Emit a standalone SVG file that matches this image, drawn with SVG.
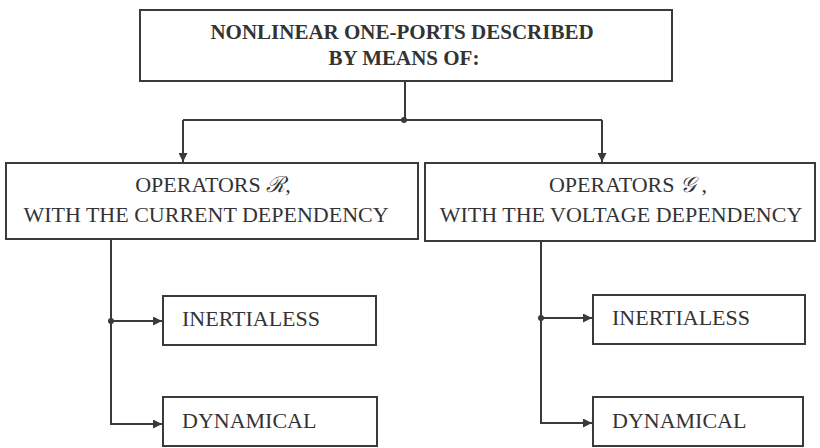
<svg xmlns="http://www.w3.org/2000/svg" width="820" height="448" viewBox="0 0 820 448">
<style>
.box{fill:#fff;stroke:#3a3a3a;stroke-width:2}
.ln{fill:none;stroke:#3a3a3a;stroke-width:2}
text{font-family:'Liberation Serif','Times New Roman',Times,serif;fill:#333;font-size:22px}
.tb{font-size:21px;font-weight:bold}
.sym{font-family:'DejaVu Serif','Liberation Serif',serif;font-style:italic}
.dot{fill:#3a3a3a}
</style>
<defs>
<marker id="arr" viewBox="0 0 10 10" refX="10" refY="5" markerWidth="9" markerHeight="9" markerUnits="userSpaceOnUse" orient="auto">
<path d="M0,0 L10,5 L0,10 z" fill="#3a3a3a"/>
</marker>
</defs>
<rect width="820" height="448" fill="#fff"/>
<g id="connectors">
<path class="ln" d="M405,81 V120"/>
<path class="ln" d="M183,120 H602"/>
<path class="ln" d="M183,120 V162" marker-end="url(#arr)"/>
<path class="ln" d="M602,120 V162" marker-end="url(#arr)"/>
<circle class="dot" cx="404" cy="120" r="3"/>
<path class="ln" d="M111,239 V424 H162" marker-end="url(#arr)"/>
<path class="ln" d="M111,321 H162" marker-end="url(#arr)"/>
<circle class="dot" cx="111" cy="321" r="3"/>
<path class="ln" d="M541,241 V423 H592" marker-end="url(#arr)"/>
<path class="ln" d="M541,318 H592" marker-end="url(#arr)"/>
<circle class="dot" cx="541" cy="318" r="3"/>
</g>
<g id="top">
<rect class="box" x="140" y="10" width="532" height="71"/>
<text class="tb" x="402" y="39" text-anchor="middle">NONLINEAR ONE-PORTS DESCRIBED</text>
<text class="tb" x="404" y="65" text-anchor="middle">BY MEANS OF:</text>
</g>
<g id="opR">
<rect class="box" x="6" y="163" width="412" height="76"/>
<text x="213" y="192" text-anchor="middle">OPERATORS <tspan class="sym">ℛ</tspan>,</text>
<text x="206" y="222" text-anchor="middle">WITH THE CURRENT DEPENDENCY</text>
</g>
<g id="opG">
<rect class="box" x="425" y="163" width="390" height="78"/>
<text x="628" y="192" text-anchor="middle">OPERATORS <tspan class="sym">𝒢</tspan> ,</text>
<text x="621" y="222" text-anchor="middle">WITH THE VOLTAGE DEPENDENCY</text>
</g>
<g id="inertL">
<rect class="box" x="163" y="296" width="213" height="49"/>
<text x="182" y="326">INERTIALESS</text>
</g>
<g id="dynL">
<rect class="box" x="163" y="397" width="214" height="49"/>
<text x="182" y="428">DYNAMICAL</text>
</g>
<g id="inertR">
<rect class="box" x="593" y="295" width="212" height="49"/>
<text x="612" y="325">INERTIALESS</text>
</g>
<g id="dynR">
<rect class="box" x="593" y="397" width="210" height="49"/>
<text x="612" y="428">DYNAMICAL</text>
</g>
</svg>
